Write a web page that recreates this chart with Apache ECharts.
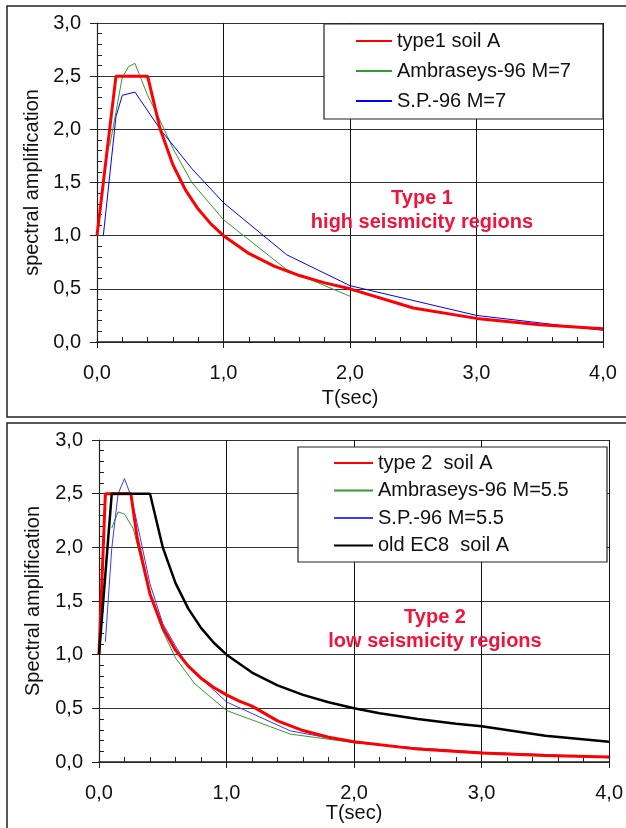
<!DOCTYPE html>
<html>
<head>
<meta charset="utf-8">
<script src="https://cdn.jsdelivr.net/npm/echarts@6/dist/echarts.min.js"></script>
<style>
  html, body { margin: 0; padding: 0; background: #fff; }
  #main { width: 626px; height: 828px; }
</style>
</head>
<body>
<div id="main"></div>
<script>
// Type 1 (upper chart)
var t1Code = [0, 0.15, 0.4, 0.5, 0.6, 0.7, 0.8, 0.9, 1.0, 1.2, 1.4, 1.6, 1.8, 2.0, 2.5, 3.0, 3.5, 4.0];
var v1Code = [1.0, 2.5, 2.5, 2.0, 1.667, 1.429, 1.25, 1.111, 1.0, 0.833, 0.714, 0.625, 0.556, 0.5, 0.32, 0.222, 0.163, 0.125];
var t1Amb = [0.1, 0.2, 0.25, 0.3, 0.4, 0.5, 0.6, 0.75, 1.0, 1.5, 2.0];
var v1Amb = [1.84, 2.49, 2.59, 2.62, 2.32, 2.08, 1.82, 1.5, 1.15, 0.68, 0.43];
var t1SP = [0.05, 0.15, 0.2, 0.3, 0.5, 0.75, 1.0, 1.5, 2.0, 3.0, 4.0];
var v1SP = [1.0, 2.12, 2.32, 2.35, 2.0, 1.63, 1.31, 0.82, 0.53, 0.25, 0.11];

// Type 2 (lower chart)
var t2Code = [0, 0.05, 0.25, 0.3, 0.4, 0.5, 0.6, 0.7, 0.8, 0.9, 1.0, 1.1, 1.2, 1.4, 1.6, 1.8, 2.0, 2.5, 3.0, 3.5, 4.0];
var v2Code = [1.0, 2.5, 2.5, 2.083, 1.563, 1.25, 1.042, 0.893, 0.781, 0.694, 0.625, 0.568, 0.521, 0.383, 0.293, 0.231, 0.188, 0.12, 0.083, 0.061, 0.047];
var t2Amb = [0.1, 0.15, 0.2, 0.27, 0.4, 0.5, 0.6, 0.75, 1.0, 1.5, 2.0, 2.5, 3.0, 4.0];
var v2Amb = [2.18, 2.33, 2.31, 2.17, 1.55, 1.22, 0.97, 0.73, 0.48, 0.26, 0.18, 0.13, 0.09, 0.04];
var t2SP = [0.05, 0.1, 0.15, 0.2, 0.25, 0.3, 0.4, 0.5, 0.6, 0.7, 0.8, 1.0, 1.5, 2.0, 2.5, 3.0, 3.5, 4.0];
var v2SP = [1.12, 1.99, 2.5, 2.64, 2.48, 2.22, 1.66, 1.29, 1.08, 0.89, 0.78, 0.56, 0.29, 0.18, 0.13, 0.09, 0.07, 0.04];
var t2Old = [0, 0.1, 0.4, 0.5, 0.6, 0.7, 0.8, 0.9, 1.0, 1.2, 1.4, 1.6, 1.8, 2.0, 2.2, 2.5, 2.8, 3.0, 3.5, 4.0];
var v2Old = [1.0, 2.5, 2.5, 2.0, 1.667, 1.429, 1.25, 1.111, 1.0, 0.833, 0.714, 0.625, 0.556, 0.5, 0.455, 0.4, 0.357, 0.333, 0.245, 0.188];

var names1 = ['type1 soil A', 'Ambraseys-96 M=7', 'S.P.-96 M=7'];
var names2 = ['type 2  soil A', 'Ambraseys-96 M=5.5', 'S.P.-96 M=5.5', 'old EC8  soil A'];

var FONT = '"Liberation Sans", Arial, sans-serif';
var RED = '#ff0000', GREEN = '#339933', BLUE = '#0000ff', BLUE2 = '#3a3aff', BLACK = '#000000';
var TXTRED = '#f0143c';

function zip(t, v) { return t.map(function (x, i) { return [x, v[i]]; }); }
function fmt(v) { return v.toFixed(1).replace('.', ','); }

function xAxisFor(idx, gap) {
  return {
    type: 'value', gridIndex: idx, min: 0, max: 4, interval: 1,
    name: 'T(sec)', nameLocation: 'middle', nameGap: gap,
    nameTextStyle: { fontFamily: FONT, fontSize: 20, color: '#111' },
    axisLine: { lineStyle: { color: '#222', width: 1.5 } },
    axisTick: { show: true, length: 6, lineStyle: { color: '#222' } },
    minorTick: { show: true, splitNumber: 5, length: -5, lineStyle: { color: '#222' } },
    splitLine: { show: true, lineStyle: { color: '#111', width: 1 } },
    axisLabel: { margin: 21, fontFamily: FONT, fontSize: 20, color: '#111', formatter: fmt }
  };
}
function yAxisFor(idx, name, gap) {
  return {
    type: 'value', gridIndex: idx, min: 0, max: 3, interval: 0.5,
    name: name, nameLocation: 'middle', nameGap: gap,
    nameTextStyle: { fontFamily: FONT, fontSize: 20, color: '#111' },
    axisLine: { show: true, lineStyle: { color: '#222', width: 1.2 } },
    axisTick: { show: true, length: 7, lineStyle: { color: '#222' } },
    minorTick: { show: true, splitNumber: 5, length: -5, lineStyle: { color: '#222' } },
    splitLine: { show: true, lineStyle: { color: '#333', width: 1 } },
    axisLabel: { margin: 16, fontFamily: FONT, fontSize: 20, color: '#111', formatter: fmt }
  };
}
function line(name, idx, data, color, width) {
  return {
    name: name, type: 'line', xAxisIndex: idx, yAxisIndex: idx,
    data: data, symbol: 'none', smooth: false,
    lineStyle: { color: color, width: width }, itemStyle: { color: color }
  };
}

var chart = echarts.init(document.getElementById('main'));
chart.setOption({
  animation: false,
  backgroundColor: '#fff',
  grid: [
    { left: 97, top: 23, width: 506, height: 319 },
    { left: 99, top: 440, width: 511, height: 322 }
  ],
  xAxis: [xAxisFor(0, 46), xAxisFor(1, 41)],
  yAxis: [yAxisFor(0, 'spectral amplification', 54), yAxisFor(1, 'Spectral amplification', 56)],
  legend: [
    {
      data: names1, orient: 'vertical', left: 355, top: 31, padding: 0,
      itemWidth: 36, itemHeight: 14, itemGap: 10,
      itemStyle: { opacity: 0 },
      textStyle: { fontFamily: FONT, fontSize: 20, color: '#111', lineHeight: 20 }
    },
    {
      data: names2, orient: 'vertical', left: 333, top: 453, padding: 0,
      itemWidth: 39, itemHeight: 14, itemGap: 7.5,
      itemStyle: { opacity: 0 },
      textStyle: { fontFamily: FONT, fontSize: 20, color: '#111', lineHeight: 20 }
    }
  ],
  graphic: [
    { type: 'rect', z: 0, shape: { x: 7, y: 6, width: 640, height: 411 }, style: { fill: null, stroke: '#222', lineWidth: 1.5 } },
    { type: 'rect', z: 0, shape: { x: 7, y: 423, width: 640, height: 430 }, style: { fill: null, stroke: '#222', lineWidth: 1.5 } },
    { type: 'rect', z: 3, shape: { x: 324, y: 24, width: 279, height: 95 }, style: { fill: '#fff', stroke: '#222', lineWidth: 1.2 } },
    { type: 'rect', z: 3, shape: { x: 298, y: 447, width: 309, height: 115 }, style: { fill: '#fff', stroke: '#222', lineWidth: 1.2 } },
    { type: 'text', z: 5, x: 422, y: 198, style: { text: 'Type 1', fill: TXTRED, font: 'bold 20px ' + FONT, textAlign: 'center', textVerticalAlign: 'middle' } },
    { type: 'text', z: 5, x: 422, y: 222, style: { text: 'high seismicity regions', fill: TXTRED, font: 'bold 20px ' + FONT, textAlign: 'center', textVerticalAlign: 'middle' } },
    { type: 'text', z: 5, x: 435, y: 617, style: { text: 'Type 2', fill: TXTRED, font: 'bold 20px ' + FONT, textAlign: 'center', textVerticalAlign: 'middle' } },
    { type: 'text', z: 5, x: 435, y: 641, style: { text: 'low seismicity regions', fill: TXTRED, font: 'bold 20px ' + FONT, textAlign: 'center', textVerticalAlign: 'middle' } }
  ],
  series: [
    line(names1[1], 0, zip(t1Amb, v1Amb), GREEN, 1),
    line(names1[2], 0, zip(t1SP, v1SP), BLUE, 1),
    line(names1[0], 0, zip(t1Code, v1Code), RED, 3),
    line(names2[1], 1, zip(t2Amb, v2Amb), GREEN, 1),
    line(names2[2], 1, zip(t2SP, v2SP), BLUE2, 1),
    line(names2[0], 1, zip(t2Code, v2Code), RED, 3),
    line(names2[3], 1, zip(t2Old, v2Old), BLACK, 2.5)
  ]
});
</script>
</body>
</html>
